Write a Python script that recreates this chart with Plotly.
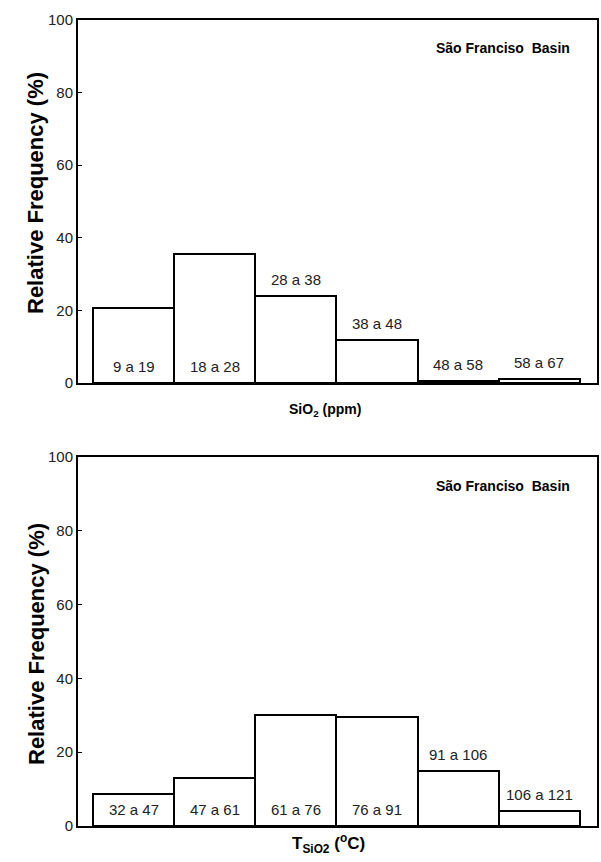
import plotly.graph_objects as go

# ---------------- data ----------------
sio2_labels = ["9 a 19", "18 a 28", "28 a 38", "38 a 48", "48 a 58", "58 a 67"]
sio2_freq = [20.6, 35.5, 24.0, 11.8, 0.5, 1.1]

temp_labels = ["32 a 47", "47 a 61", "61 a 76", "76 a 91", "91 a 106", "106 a 121"]
temp_freq = [8.7, 13.0, 30.0, 29.5, 14.9, 4.1]

y_ticks = [0, 20, 40, 60, 80, 100]
basin_name = "São Franciso  Basin"

# ---------------- style ----------------
sio2_label_pos = ["in", "in", "out", "out", "out", "out"]
temp_label_pos = ["in", "in", "in", "in", "out", "out"]

NARROW = "Liberation Sans Narrow, Arial Narrow, Liberation Sans, Arial"
BOLD = "Liberation Sans, Arial, sans-serif"
W, H = 601, 862
X0, X1 = 78 / W, 597 / W
top_dom = [1 - 383 / H, 1 - 20 / H]
bot_dom = [1 - 826 / H, 1 - 457 / H]
xrange_ = [-0.685, 5.71]

fig = go.Figure()

def add_panel(vals, xa, ya):
    fig.add_trace(go.Bar(
        x=list(range(len(vals))), y=vals, width=1.0,
        marker=dict(color="white", line=dict(color="black", width=2)),
        xaxis=xa, yaxis=ya, showlegend=False, hoverinfo="skip"))

add_panel(sio2_freq, "x", "y")
add_panel(temp_freq, "x2", "y2")

axis_common_y = dict(range=[0, 100], tickvals=y_ticks, ticks="inside", ticklen=4,
                     tickcolor="black", showline=True, linecolor="black", linewidth=2,
                     mirror=True, showgrid=False, zeroline=False, automargin=False,
                     tickfont=dict(family=NARROW, size=15, color="#222"))
axis_common_x = dict(range=xrange_, showticklabels=False, ticks="", showline=True,
                     linecolor="black", linewidth=2, mirror=True, showgrid=False,
                     zeroline=False, automargin=False)

fig.update_layout(
    width=W, height=H, autosize=False,
    margin=dict(l=0, r=0, t=0, b=0, autoexpand=False),
    paper_bgcolor="white", plot_bgcolor="white", bargap=0,
    xaxis=dict(domain=[X0, X1], anchor="y", **axis_common_x),
    yaxis=dict(domain=top_dom, anchor="x", **axis_common_y),
    xaxis2=dict(domain=[X0, X1], anchor="y2", **axis_common_x),
    yaxis2=dict(domain=bot_dom, anchor="x2", **axis_common_y),
)

anns = []
def add_labels(labels, vals, pos, xr, yr):
    for i, (lab, v, p) in enumerate(zip(labels, vals, pos)):
        base = 0 if p == "in" else v
        anns.append(dict(x=i, y=base, xref=xr, yref=yr, text=lab, showarrow=False,
                         yanchor="bottom", yshift=6,
                         font=dict(family=NARROW, size=15, color="#222")))

add_labels(sio2_labels, sio2_freq, sio2_label_pos, "x", "y")
add_labels(temp_labels, temp_freq, temp_label_pos, "x2", "y2")

# basin names
for yc in [1 - 48 / H, 1 - 486 / H]:
    anns.append(dict(x=503 / W, y=yc, xref="paper", yref="paper", text="<b>" + basin_name + "</b>",
                     showarrow=False, xanchor="center", yanchor="middle",
                     font=dict(family=NARROW, size=14, color="black")))

# y axis titles
for yc in [1 - 193 / H, 1 - 644 / H]:
    anns.append(dict(x=36 / W, y=yc, xref="paper", yref="paper",
                     text="<b>Relative Frequency (%)</b>", textangle=-90, showarrow=False,
                     xanchor="center", yanchor="middle",
                     font=dict(family=BOLD, size=22, color="black")))

# x axis titles
anns.append(dict(x=325 / W, y=1 - 410 / H, xref="paper", yref="paper",
                 text="<b>SiO<sub>2</sub> (ppm)</b>", showarrow=False,
                 xanchor="center", yanchor="middle",
                 font=dict(family=BOLD, size=14, color="black")))
anns.append(dict(x=328 / W, y=1 - 843 / H, xref="paper", yref="paper",
                 text="<b>T<sub>SiO2</sub> (<sup>o</sup>C)</b>", showarrow=False,
                 xanchor="center", yanchor="middle",
                 font=dict(family=BOLD, size=17, color="black")))

fig.update_layout(annotations=anns)

post = ("document.documentElement.style.margin='0';document.body.style.margin='0';"
        "document.body.style.overflow='hidden';"
        "var gd=document.getElementById('{plot_id}');"
        "Plotly.relayout(gd,{width:601,height:862});")
fig.write_html("out.html", post_script=post,
               config={"responsive": False, "displayModeBar": False})
